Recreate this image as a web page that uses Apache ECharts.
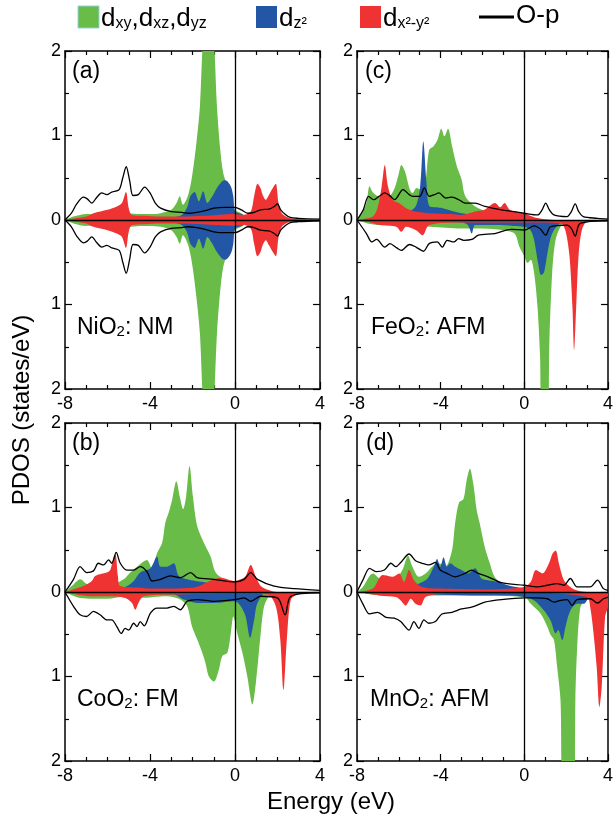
<!DOCTYPE html>
<html>
<head>
<meta charset="utf-8">
<script src="https://cdn.jsdelivr.net/npm/echarts@6.0.0/dist/echarts.min.js"></script>
<style>
  html, body { margin: 0; padding: 0; background: #fff; }
  #chart { width: 616px; height: 823px; }
</style>
</head>
<body>
<div id="chart"></div>
<script>
// Projected DOS of transition-metal dioxides: [energy (eV), PDOS (states/eV)]
// Positive values = spin up, negative values = spin down.

// ---- (a) NiO2, non-magnetic (spin down is the mirror of spin up) ----
const ni_t2g = [[-8,0],[-7.6,0.04],[-7,0.07],[-6.5,0.06],[-6,0.05],[-5.5,0.06],[-5,0.08],[-4.5,0.07],[-4,0.07],[-3.5,0.08],[-3,0.12],[-2.75,0.2],[-2.6,0.28],[-2.45,0.18],[-2.2,0.3],[-2.0,0.55],[-1.8,0.95],[-1.65,1.35],[-1.5,2.2],[-1.35,2.6],[-1.15,2.6],[-1.0,2.2],[-0.85,1.35],[-0.7,0.85],[-0.55,0.55],[-0.35,0.4],[-0.15,0.25],[0,0.12],[0.3,0.08],[0.5,0.05],[1,0.03],[2,0.02],[3,0.01],[4,0]];
const ni_z2 = [[-8,0],[-6,0.01],[-4,0.02],[-3,0.03],[-2.5,0.06],[-2.25,0.15],[-2.1,0.28],[-1.9,0.33],[-1.7,0.22],[-1.5,0.34],[-1.3,0.2],[-1.07,0.28],[-0.85,0.38],[-0.6,0.46],[-0.45,0.47],[-0.2,0.4],[-0.08,0.28],[0,0.1],[0.2,0.08],[0.4,0.06],[0.6,0.02],[1,0],[4,0]];
const ni_x2y2 = [[-8,0],[-7.5,0.02],[-7,0.04],[-6.66,0.08],[-6.0,0.12],[-5.56,0.16],[-5.32,0.2],[-5.13,0.33],[-5.0,0.14],[-4.85,0.06],[-4.3,0.05],[-3.5,0.04],[-2.5,0.04],[-1.5,0.05],[-0.8,0.06],[0,0.07],[0.4,0.06],[0.74,0.1],[0.9,0.28],[1.06,0.43],[1.2,0.38],[1.3,0.3],[1.45,0.24],[1.6,0.3],[1.78,0.38],[1.92,0.43],[2.05,0.2],[2.2,0.08],[2.5,0.03],[3,0.01],[4,0]];
const ni_op = [[-8,0],[-7.7,0.08],[-7.45,0.19],[-7.13,0.27],[-6.95,0.25],[-6.74,0.2],[-6.5,0.27],[-6.27,0.32],[-6.03,0.3],[-5.8,0.33],[-5.45,0.36],[-5.28,0.5],[-5.12,0.63],[-4.96,0.47],[-4.8,0.29],[-4.55,0.3],[-4.25,0.39],[-4.0,0.32],[-3.75,0.2],[-3.5,0.14],[-3.0,0.1],[-2.5,0.09],[-2.2,0.08],[-1.8,0.09],[-1.4,0.11],[-1.0,0.14],[-0.5,0.15],[0,0.15],[0.3,0.12],[0.6,0.08],[0.9,0.09],[1.2,0.12],[1.6,0.13],[1.85,0.16],[2.0,0.19],[2.15,0.12],[2.35,0.07],[2.6,0.03],[3,0.02],[4,0.01]];

// ---- (b) CoO2, ferromagnetic ----
const co_t2g_up = [[-8,0],[-7.6,0.09],[-7.29,0.15],[-6.82,0.07],[-6.03,0.07],[-5.24,0.15],[-4.93,0.23],[-4.61,0.3],[-4.14,0.38],[-3.9,0.27],[-3.67,0.46],[-3.43,0.58],[-3.28,0.82],[-3.12,0.94],[-2.96,1.09],[-2.76,1.31],[-2.6,1.13],[-2.44,0.98],[-2.3,1.13],[-2.14,1.49],[-1.98,1.13],[-1.78,0.78],[-1.46,0.58],[-1.15,0.42],[-0.91,0.23],[-0.52,0.15],[0,0.07],[0.5,0.03],[1,0],[4,0]];
const co_z2_up = [[-8,0],[-6,0.02],[-5.24,0.05],[-4.8,0.12],[-4.46,0.23],[-3.98,0.28],[-3.67,0.42],[-3.51,0.3],[-3.2,0.3],[-2.88,0.34],[-2.65,0.19],[-2.25,0.15],[-1.86,0.13],[-1.31,0.11],[-0.5,0.06],[0,0.03],[0.5,0],[4,0]];
const co_x2y2_up = [[-8,0],[-7.13,0.07],[-6.74,0.13],[-6.58,0.19],[-6.03,0.23],[-5.87,0.26],[-5.72,0.4],[-5.62,0.44],[-5.51,0.19],[-5.4,0.07],[-4.46,0.05],[-4,0.04],[-2,0.05],[-1,0.15],[-0.68,0.17],[0,0.13],[0.27,0.15],[0.5,0.19],[0.74,0.32],[0.98,0.18],[1.21,0.07],[1.5,0.03],[2,0],[4,0]];
const co_op_up = [[-8,0],[-7.6,0.15],[-7.29,0.3],[-6.98,0.23],[-6.66,0.25],[-6.43,0.34],[-6.19,0.32],[-5.95,0.38],[-5.8,0.34],[-5.59,0.47],[-5.4,0.34],[-5.09,0.26],[-4.77,0.26],[-4.46,0.3],[-4.14,0.24],[-3.9,0.13],[-3.51,0.15],[-3.04,0.19],[-2.57,0.17],[-2.09,0.23],[-1.78,0.17],[-0.99,0.15],[0,0.12],[0.43,0.15],[0.74,0.23],[1.06,0.15],[1.84,0.07],[2.79,0.04],[4,0.02]];
const co_t2g_dn = [[-8,0],[-7.29,-0.07],[-6.03,-0.08],[-5.09,-0.05],[-4.46,-0.07],[-3.2,-0.05],[-2.57,-0.09],[-2.25,-0.17],[-2.02,-0.41],[-1.78,-0.56],[-1.54,-0.72],[-1.39,-0.84],[-1.23,-1.0],[-0.99,-1.06],[-0.76,-0.92],[-0.6,-0.76],[-0.36,-0.72],[-0.2,-0.49],[-0.08,-0.29],[0.11,-0.49],[0.35,-0.72],[0.58,-1.0],[0.82,-1.33],[0.98,-1.08],[1.21,-0.49],[1.37,-0.17],[1.61,-0.05],[2,0],[4,0]];
const co_z2_dn = [[-8,0],[-6,-0.02],[-2.88,-0.03],[-2.41,-0.09],[-1.78,-0.13],[-0.99,-0.13],[0,-0.11],[0.27,-0.17],[0.5,-0.29],[0.71,-0.54],[0.9,-0.33],[1.06,-0.13],[1.5,0],[4,0]];
const co_x2y2_dn = [[-8,0],[-6.82,-0.05],[-6.03,-0.05],[-5.17,-0.07],[-4.85,-0.13],[-4.69,-0.21],[-4.54,-0.13],[-4.3,-0.05],[-3,-0.03],[0,-0.02],[1.53,-0.03],[1.92,-0.17],[2.13,-0.56],[2.28,-1.16],[2.44,-0.56],[2.63,-0.09],[2.94,-0.03],[3.5,0],[4,0]];
const co_op_dn = [[-8,0],[-7.6,-0.17],[-7.29,-0.27],[-6.98,-0.29],[-6.66,-0.23],[-6.35,-0.27],[-6.03,-0.33],[-5.8,-0.33],[-5.56,-0.41],[-5.35,-0.49],[-5.17,-0.43],[-5.0,-0.45],[-4.77,-0.37],[-4.61,-0.41],[-4.46,-0.35],[-4.27,-0.4],[-3.98,-0.25],[-3.67,-0.19],[-3.2,-0.19],[-2.88,-0.17],[-2.57,-0.21],[-2.25,-0.11],[-1.78,-0.09],[-0.99,-0.11],[0,-0.09],[0.43,-0.07],[0.74,-0.11],[1.21,-0.05],[2.0,-0.07],[2.36,-0.27],[2.63,-0.05],[4,-0.01]];

// ---- (c) FeO2, antiferromagnetic ----
const fe_t2g_up = [[-8,0],[-7.75,0.08],[-7.55,0.2],[-7.4,0.4],[-7.25,0.33],[-7.0,0.28],[-6.7,0.27],[-6.45,0.28],[-6.2,0.38],[-6.0,0.55],[-5.88,0.65],[-5.7,0.57],[-5.5,0.38],[-5.35,0.32],[-5.15,0.38],[-4.95,0.36],[-4.75,0.42],[-4.55,0.83],[-4.35,0.87],[-4.15,0.95],[-3.97,1.08],[-3.82,0.99],[-3.65,1.08],[-3.45,0.87],[-3.22,0.63],[-3.0,0.48],[-2.82,0.28],[-2.35,0.16],[-1.75,0.1],[-0.8,0.06],[0,0.03],[0.5,0],[4,0]];
const fe_z2_up = [[-8,0],[-6,0.02],[-5.65,0.08],[-5.2,0.16],[-4.98,0.4],[-4.83,0.93],[-4.68,0.45],[-4.55,0.17],[-4.2,0.15],[-3.9,0.14],[-3.0,0.08],[-2,0.05],[0,0.02],[0.5,0],[4,0]];
const fe_x2y2_up = [[-8,0],[-7.5,0.02],[-7.2,0.05],[-7.0,0.16],[-6.82,0.4],[-6.67,0.65],[-6.52,0.4],[-6.3,0.24],[-6.0,0.2],[-5.65,0.14],[-5.2,0.1],[-4.55,0.08],[-3.5,0.07],[-3.0,0.06],[-2.35,0.1],[-1.9,0.12],[-1.4,0.2],[-1.15,0.15],[-0.95,0.2],[-0.7,0.12],[-0.45,0.1],[0,0.08],[0.5,0.03],[1,0.01],[1.5,0],[4,0]];
const fe_op_up = [[-8,0],[-7.7,0.12],[-7.45,0.28],[-7.2,0.24],[-6.95,0.28],[-6.67,0.32],[-6.4,0.28],[-6.2,0.24],[-5.8,0.36],[-5.5,0.3],[-5.33,0.28],[-5.0,0.28],[-4.78,0.38],[-4.55,0.28],[-4.3,0.3],[-4.08,0.32],[-3.76,0.26],[-3.5,0.27],[-3.29,0.26],[-3.0,0.22],[-2.82,0.2],[-2.35,0.2],[-1.88,0.16],[-1.1,0.12],[-0.5,0.1],[0,0.08],[0.63,0.06],[0.85,0.12],[1.02,0.2],[1.2,0.12],[1.41,0.06],[2.04,0.04],[2.25,0.1],[2.43,0.19],[2.6,0.1],[2.82,0.04],[3.5,0.02],[4,0.01]];
const fe_t2g_dn = [[-8,0],[-7.5,-0.04],[-6.9,-0.06],[-5.5,-0.07],[-4.5,-0.08],[-3,-0.1],[-2,-0.1],[-1,-0.12],[-0.47,-0.16],[-0.23,-0.32],[0,-0.43],[0.16,-0.51],[0.31,-0.47],[0.47,-0.63],[0.63,-1.03],[0.75,-1.6],[0.85,-2.4],[1.1,-2.4],[1.2,-1.43],[1.33,-0.63],[1.49,-0.24],[1.73,-0.08],[2.04,0],[4,0]];
const fe_z2_dn = [[-8,0],[-6,-0.02],[-3,-0.03],[-2.7,-0.06],[-2.51,-0.16],[-2.35,-0.06],[-1.4,-0.06],[-0.5,-0.07],[0,-0.08],[0.3,-0.12],[0.47,-0.24],[0.65,-0.5],[0.8,-0.65],[0.94,-0.62],[1.1,-0.4],[1.25,-0.22],[1.41,-0.12],[1.7,-0.04],[2,0],[4,0]];
const fe_x2y2_dn = [[-8,0],[-7.5,-0.02],[-6.9,-0.06],[-6.12,-0.08],[-5.88,-0.14],[-5.65,-0.08],[-5.18,-0.12],[-4.86,-0.18],[-4.55,-0.06],[-3,-0.03],[0,-0.03],[1.73,-0.04],[1.96,-0.12],[2.16,-0.43],[2.3,-1.03],[2.38,-1.54],[2.48,-1.03],[2.59,-0.43],[2.75,-0.12],[3.0,-0.02],[4,0]];
const fe_op_dn = [[-8,0],[-7.55,-0.16],[-7.29,-0.26],[-7.06,-0.23],[-6.67,-0.32],[-6.43,-0.28],[-6.1,-0.33],[-5.88,-0.36],[-5.49,-0.29],[-5.18,-0.32],[-4.82,-0.37],[-4.55,-0.28],[-4.16,-0.26],[-3.92,-0.32],[-3.69,-0.24],[-3.37,-0.26],[-3.14,-0.22],[-2.9,-0.24],[-2.51,-0.23],[-2.2,-0.18],[-1.41,-0.16],[-0.63,-0.11],[0,-0.12],[0.47,-0.07],[0.78,-0.11],[1.02,-0.18],[1.25,-0.08],[2.04,-0.06],[2.25,-0.1],[2.43,-0.19],[2.67,-0.04],[4,-0.01]];

// ---- (d) MnO2, antiferromagnetic ----
const mn_t2g_up = [[-8,0],[-7.72,0.06],[-7.24,0.22],[-6.77,0.14],[-6.14,0.16],[-5.83,0.26],[-5.56,0.43],[-5.35,0.3],[-5.04,0.18],[-4.72,0.22],[-4.41,0.3],[-4.09,0.34],[-3.78,0.3],[-3.46,0.49],[-3.31,0.81],[-3.12,1.06],[-2.91,1.1],[-2.76,1.32],[-2.6,1.46],[-2.44,1.28],[-2.28,0.97],[-2.13,0.81],[-1.89,0.53],[-1.65,0.34],[-1.42,0.18],[-0.94,0.08],[0,0.04],[0.5,0.02],[1,0],[4,0]];
const mn_z2_up = [[-8,0],[-6,0.03],[-4.72,0.14],[-4.33,0.3],[-4.17,0.39],[-4.02,0.3],[-3.86,0.41],[-3.7,0.3],[-3.54,0.34],[-3.31,0.3],[-3.0,0.26],[-2.68,0.22],[-2.36,0.28],[-2.05,0.16],[-1.73,0.14],[-1.26,0.12],[-0.79,0.08],[0,0.04],[0.5,0.01],[1,0],[4,0]];
const mn_x2y2_up = [[-8,0],[-7.24,0.04],[-6.77,0.2],[-6.3,0.18],[-5.98,0.22],[-5.75,0.12],[-5.51,0.26],[-5.28,0.14],[-4.88,0.06],[-4,0.04],[-2,0.03],[0,0.06],[0.31,0.12],[0.55,0.26],[0.87,0.22],[1.18,0.34],[1.34,0.45],[1.5,0.49],[1.65,0.34],[1.89,0.14],[2.2,0.06],[2.5,0.02],[3,0],[4,0]];
const mn_op_up = [[-8,0],[-7.72,0.14],[-7.4,0.28],[-7.09,0.24],[-6.69,0.26],[-6.38,0.34],[-6.14,0.3],[-5.91,0.35],[-5.51,0.45],[-5.2,0.37],[-4.88,0.34],[-4.57,0.32],[-4.25,0.35],[-4.02,0.26],[-3.7,0.22],[-3.31,0.18],[-2.83,0.22],[-2.52,0.26],[-2.2,0.22],[-1.73,0.18],[-1.1,0.11],[0,0.08],[0.63,0.06],[1.1,0.08],[1.57,0.1],[1.89,0.08],[2.2,0.16],[2.52,0.06],[3.15,0.06],[3.5,0.14],[3.78,0.04],[4,0.02]];
const mn_t2g_dn = [[-8,0],[-6.9,-0.04],[-4.5,-0.04],[-2.2,-0.04],[0,-0.06],[0.31,-0.14],[0.79,-0.26],[1.1,-0.41],[1.26,-0.51],[1.42,-0.57],[1.57,-0.89],[1.73,-1.28],[1.85,-2.4],[2.4,-2.4],[2.44,-1.28],[2.52,-0.69],[2.68,-0.18],[2.91,-0.1],[3.15,-0.06],[3.5,0],[4,0]];
const mn_z2_dn = [[-8,0],[-6,-0.02],[-2,-0.04],[-0.63,-0.04],[0,-0.06],[0.47,-0.1],[0.94,-0.22],[1.26,-0.34],[1.5,-0.49],[1.62,-0.45],[1.81,-0.57],[1.97,-0.41],[2.2,-0.22],[2.52,-0.14],[2.83,-0.14],[3.15,-0.04],[3.5,0],[4,0]];
const mn_x2y2_dn = [[-8,0],[-6.93,-0.04],[-6.14,-0.06],[-5.91,-0.1],[-5.67,-0.16],[-5.43,-0.08],[-5.2,-0.14],[-4.96,-0.16],[-4.72,-0.06],[-4,-0.02],[0,-0.01],[2.99,-0.06],[3.15,-0.18],[3.31,-0.49],[3.46,-0.89],[3.59,-1.36],[3.7,-1.12],[3.86,-0.3],[4,-0.18]];
const mn_op_dn = [[-8,0],[-7.72,-0.14],[-7.4,-0.26],[-7.01,-0.24],[-6.61,-0.3],[-6.22,-0.31],[-5.91,-0.35],[-5.51,-0.45],[-5.28,-0.35],[-5.04,-0.43],[-4.8,-0.33],[-4.57,-0.37],[-4.25,-0.35],[-3.94,-0.26],[-3.46,-0.24],[-3.0,-0.2],[-2.52,-0.18],[-1.89,-0.12],[-1.1,-0.09],[0,-0.07],[0.47,-0.07],[1.1,-0.08],[1.42,-0.12],[1.73,-0.1],[2.05,-0.09],[2.28,-0.16],[2.52,-0.09],[3.15,-0.08],[3.5,-0.13],[3.78,-0.08],[4,-0.06]];

// Axis ranges
const energyRange = [-8, 4];
const energyStep = 4;
const dosRange = [-2, 2];
const dosStep = 1;

// Colours and fonts
const GREEN = '#68bc47';
const BLUE = '#2357a6';
const RED = '#ee3332';
const FONT = '"Liberation Sans", Arial, Helvetica, sans-serif';

const mirror = arr => arr.map(([e, v]) => [e, -v]);

// Panels: compound label, magnetic order, plot box and curves
const panels = [
  { tag: '(a)', formula: 'NiO', order: ': NM', box: { left: 65, top: 51 }, tagPos: [72, 60], namePos: [77, 312],
    t2g: [ni_t2g, mirror(ni_t2g)], z2: [ni_z2, mirror(ni_z2)], x2y2: [ni_x2y2, mirror(ni_x2y2)], op: [ni_op, mirror(ni_op)] },
  { tag: '(b)', formula: 'CoO', order: ': FM', box: { left: 65, top: 423 }, tagPos: [72, 432], namePos: [77, 684],
    t2g: [co_t2g_up, co_t2g_dn], z2: [co_z2_up, co_z2_dn], x2y2: [co_x2y2_up, co_x2y2_dn], op: [co_op_up, co_op_dn] },
  { tag: '(c)', formula: 'FeO', order: ': AFM', box: { left: 357, top: 51 }, tagPos: [365, 60], namePos: [371, 312],
    t2g: [fe_t2g_up, fe_t2g_dn], z2: [fe_z2_up, fe_z2_dn], x2y2: [fe_x2y2_up, fe_x2y2_dn], op: [fe_op_up, fe_op_dn] },
  { tag: '(d)', formula: 'MnO', order: ': AFM', box: { left: 357, top: 423 }, tagPos: [366, 432], namePos: [370, 684],
    t2g: [mn_t2g_up, mn_t2g_dn], z2: [mn_z2_up, mn_z2_dn], x2y2: [mn_x2y2_up, mn_x2y2_dn], op: [mn_op_up, mn_op_dn] }
];

const PANEL_W = 255, PANEL_H = 338;

const tickStyle = { color: '#000', width: 1.2 };
function xAxis(gi, pos) {
  return {
    gridIndex: gi, type: 'value', position: pos,
    min: energyRange[0], max: energyRange[1], interval: energyStep,
    axisLine: { onZero: false, lineStyle: { color: '#000', width: 1.5 } },
    axisTick: { inside: true, length: 7, lineStyle: tickStyle },
    minorTick: { show: true, splitNumber: 4, length: 4, lineStyle: tickStyle },
    splitLine: { show: false },
    axisLabel: { show: pos === 'bottom', color: '#000', fontSize: 18, fontFamily: FONT, margin: 6 }
  };
}
function yAxis(gi, pos) {
  return {
    gridIndex: gi, type: 'value', position: pos,
    min: dosRange[0], max: dosRange[1], interval: dosStep,
    axisLine: { onZero: false, lineStyle: { color: '#000', width: 1.5 } },
    axisTick: { inside: true, length: 7, lineStyle: tickStyle },
    minorTick: { show: true, splitNumber: 2, length: 4, lineStyle: tickStyle },
    splitLine: { show: false },
    axisLabel: { show: pos === 'left', color: '#000', fontSize: 18, fontFamily: FONT, margin: 4,
                 formatter: v => String(Math.abs(v)) }
  };
}

function area(data, color, gi) {
  return {
    type: 'line', xAxisIndex: 2 * gi, yAxisIndex: 2 * gi, data,
    smooth: 0.3, symbol: 'none', showSymbol: false, silent: true, clip: true,
    itemStyle: { color }, lineStyle: { width: 0, color },
    areaStyle: { color, opacity: 1, origin: 'auto' }
  };
}
function curve(data, gi) {
  return {
    type: 'line', xAxisIndex: 2 * gi, yAxisIndex: 2 * gi, data,
    smooth: 0.3, symbol: 'none', showSymbol: false, silent: true, clip: true,
    itemStyle: { color: '#000' }, lineStyle: { width: 1.3, color: '#000' }
  };
}

const grid = [], xAxes = [], yAxes = [], series = [], graphics = [];
panels.forEach((p, gi) => {
  grid.push({ left: p.box.left, top: p.box.top, width: PANEL_W, height: PANEL_H, containLabel: false });
  xAxes.push(xAxis(gi, 'bottom'), xAxis(gi, 'top'));
  yAxes.push(yAxis(gi, 'left'), yAxis(gi, 'right'));
  // t2g behind, then d_z2, then d_x2-y2, O-p lines on top
  p.t2g.forEach(d => series.push(area(d, GREEN, gi)));
  p.z2.forEach(d => series.push(area(d, BLUE, gi)));
  p.x2y2.forEach(d => series.push(area(d, RED, gi)));
  p.op.forEach(d => series.push(curve(d, gi)));
  // zero-energy (Fermi level) and zero-DOS reference lines
  series[series.length - 1].markLine = {
    silent: true, symbol: ['none', 'none'], label: { show: false }, animation: false,
    lineStyle: { color: '#000', width: 1.3, type: 'solid' },
    data: [{ yAxis: 0 }, { xAxis: 0 }]
  };
  graphics.push({
    type: 'text', x: p.tagPos[0], y: p.tagPos[1],
    style: { text: p.tag, fill: '#000', fontSize: 23, fontFamily: FONT, verticalAlign: 'top' }
  });
  graphics.push({
    type: 'text', x: p.namePos[0], y: p.namePos[1],
    style: {
      text: '{m|' + p.formula + '}{s|2}{m|' + p.order + '}', verticalAlign: 'top',
      rich: {
        m: { fontSize: 23, fontFamily: FONT, fill: '#000', lineHeight: 27, verticalAlign: 'bottom' },
        s: { fontSize: 15, fontFamily: FONT, fill: '#000', lineHeight: 12, verticalAlign: 'bottom' }
      }
    }
  });
});

// Legend
const legendRich = {
  m: { fontSize: 26, fontFamily: FONT, fill: '#000', lineHeight: 30, verticalAlign: 'bottom' },
  s: { fontSize: 16, fontFamily: FONT, fill: '#000', lineHeight: 15, verticalAlign: 'bottom' }
};
graphics.push(
  { type: 'rect', shape: { x: 78, y: 6, width: 21, height: 22 }, style: { fill: GREEN, stroke: '#8fd3e0', lineWidth: 1 } },
  { type: 'text', x: 101, y: 2, style: { text: '{m|d}{s|xy}{m|,d}{s|xz}{m|,d}{s|yz}', rich: legendRich, verticalAlign: 'top' } },
  { type: 'rect', shape: { x: 256, y: 6, width: 21, height: 22 }, style: { fill: BLUE } },
  { type: 'text', x: 279, y: 2, style: { text: '{m|d}{s|z²}', rich: legendRich, verticalAlign: 'top' } },
  { type: 'rect', shape: { x: 360, y: 6, width: 21, height: 22 }, style: { fill: RED } },
  { type: 'text', x: 383, y: 2, style: { text: '{m|d}{s|x²-y²}', rich: legendRich, verticalAlign: 'top' } },
  { type: 'line', shape: { x1: 479, y1: 17, x2: 514, y2: 17 }, style: { stroke: '#000', lineWidth: 3 } },
  { type: 'text', x: 516, y: 3, style: { text: 'O-p', fill: '#000', fontSize: 26, fontFamily: FONT, verticalAlign: 'top' } }
);

// Axis titles
graphics.push(
  { type: 'text', x: 22, y: 410, rotation: Math.PI / 2,
    style: { text: 'PDOS (states/eV)', fill: '#000', fontSize: 24, fontFamily: FONT, align: 'center', verticalAlign: 'middle' } },
  { type: 'text', x: 331, y: 802,
    style: { text: 'Energy (eV)', fill: '#000', fontSize: 24, fontFamily: FONT, align: 'center', verticalAlign: 'middle' } }
);

const chart = echarts.init(document.getElementById('chart'), null, { renderer: 'canvas' });
chart.setOption({
  animation: false,
  backgroundColor: '#fff',
  grid, xAxis: xAxes, yAxis: yAxes, series,
  graphic: graphics
});
</script>
</body>
</html>
